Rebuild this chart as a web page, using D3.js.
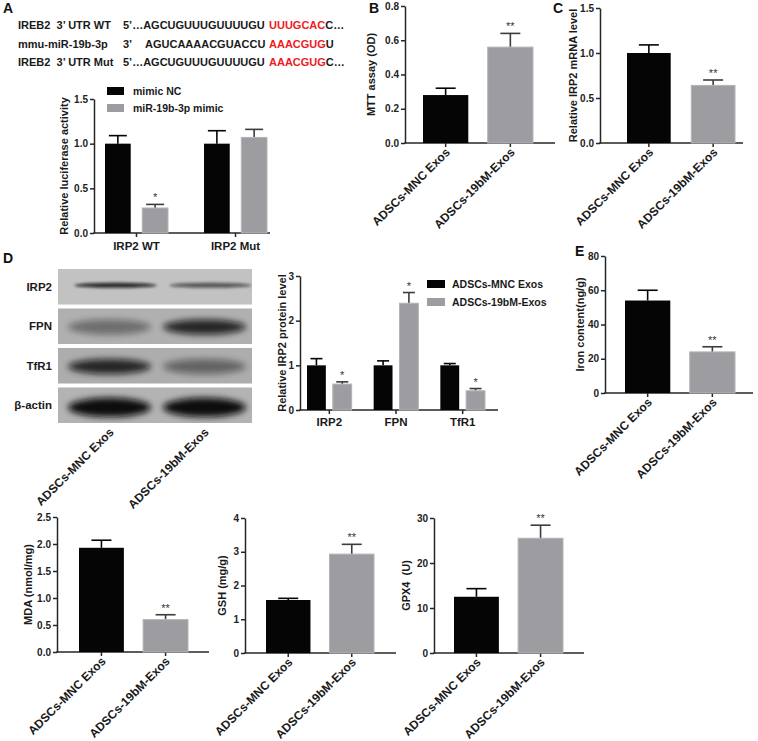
<!DOCTYPE html>
<html><head><meta charset="utf-8">
<script src="https://cdn.jsdelivr.net/npm/d3@7"></script>
<style>
body{margin:0;background:#fff;}
svg{display:block;font-family:"Liberation Sans",Arial,Helvetica,sans-serif;font-weight:bold;}
</style></head><body>
<svg id="fig" width="758" height="741"></svg>
<script>
// ---------------- DATA ----------------
const exoGroups = ["ADSCs-MNC Exos", "ADSCs-19bM-Exos"];

const seqNames  = ["IREB2  3\u2019 UTR WT", "mmu-miR-19b-3p", "IREB2  3\u2019 UTR Mut"];
const seqEnds   = ["5\u2019\u2026", "3\u2019", "5\u2019\u2026"];
const seqBody   = ["AGCUGUUUGUUUUGU", "AGUCAAAACGUACCU", "AGCUGUUUGUUUUGU"];
const seqSeed   = ["UUUGCAC", "AAACGUG", "AAACGUG"];
const seqTail   = ["C\u2026", "U", "C\u2026"];

const lucTargets   = ["IRP2 WT", "IRP2 Mut"];
const lucSeries    = ["mimic NC", "miR-19b-3p mimic"];
const lucNC        = [1.00, 1.00];
const lucNCErr     = [0.09, 0.145];
const lucMimic     = [0.28, 1.07];
const lucMimicErr  = [0.04, 0.09];
const lucMimicSig  = ["*", ""];
const lucTicks     = [0, 0.5, 1.0, 1.5];

const mttMean = [0.28, 0.56];
const mttErr  = [0.04, 0.08];
const mttSig  = ["", "**"];
const mttTicks = [0, 0.2, 0.4, 0.6, 0.8];

const mrnaMean = [1.00, 0.64];
const mrnaErr  = [0.09, 0.06];
const mrnaSig  = ["", "**"];
const mrnaTicks = [0, 0.5, 1.0, 1.5];

const blotProteins = ["IRP2", "FPN", "TfR1", "\u03b2-actin"];
const blotMNC      = [0.85, 0.40, 0.85, 1.00];
const blot19bM     = [0.60, 0.85, 0.45, 1.00];

const proteinTargets  = ["IRP2", "FPN", "TfR1"];
const proteinMNC      = [1.00, 1.00, 1.00];
const proteinMNCErr   = [0.15, 0.10, 0.04];
const protein19bM     = [0.58, 2.39, 0.43];
const protein19bMErr  = [0.05, 0.24, 0.05];
const protein19bMSig  = ["*", "*", "*"];
const proteinTicks    = [0, 1, 2, 3];

const ironMean = [54, 24];
const ironErr  = [6, 3];
const ironSig  = ["", "**"];
const ironTicks = [0, 20, 40, 60, 80];

const mdaMean = [1.93, 0.60];
const mdaErr  = [0.14, 0.09];
const mdaSig  = ["", "**"];
const mdaTicks = [0, 0.5, 1.0, 1.5, 2.0, 2.5];

const gshMean = [1.57, 2.93];
const gshErr  = [0.05, 0.29];
const gshSig  = ["", "**"];
const gshTicks = [0, 1, 2, 3, 4];

const gpxMean = [12.5, 25.5];
const gpxErr  = [1.8, 2.9];
const gpxSig  = ["", "**"];
const gpxTicks = [0, 10, 20, 30];

// ---------------- STYLE ----------------
const FONT = "'Liberation Sans', Arial, Helvetica, sans-serif";
const AXC = "#262626";
const COLORS = ["#050505", "#9d9da1"];
const ERRC = ["#050505", "#3c3c3c"];
const svg = d3.select("#fig");

const defs = svg.append("defs");
defs.append("filter").attr("id", "blur").attr("x", "-50%").attr("y", "-100%").attr("width", "200%").attr("height", "300%")
  .append("feGaussianBlur").attr("stdDeviation", 3);
defs.append("filter").attr("id", "blur2").attr("x", "-50%").attr("y", "-100%").attr("width", "200%").attr("height", "300%")
  .append("feGaussianBlur").attr("stdDeviation", 1.6);

function letter(t, x, y) {
  svg.append("text").attr("x", x).attr("y", y).attr("font-size", 14).attr("font-weight", "bold").attr("fill", "#111").text(t);
}

function yLeft(g, y, x0, ticks, fmt) {
  const a = g.append("g").attr("transform", `translate(${x0},0)`)
    .call(d3.axisLeft(y).tickValues(ticks).tickFormat(fmt).tickSize(4).tickSizeOuter(0));
  a.attr("font-family", FONT).attr("font-size", 10).attr("font-weight", "bold");
  a.select(".domain").attr("stroke", AXC).attr("stroke-width", 1.5);
  a.selectAll(".tick line").attr("stroke", AXC).attr("stroke-width", 1.5);
  a.selectAll(".tick text").attr("fill", "#222").attr("x", -6);
}

function xBase(g, y0, x0, x1, centers) {
  g.append("line").attr("x1", x0 - 0.75).attr("x2", x1).attr("y1", y0).attr("y2", y0)
    .attr("stroke", AXC).attr("stroke-width", 1.5);
  g.selectAll(null).data(centers).join("line")
    .attr("x1", d => d).attr("x2", d => d).attr("y1", y0).attr("y2", y0 + 4)
    .attr("stroke", AXC).attr("stroke-width", 1.5);
}

function drawBar(g, cx, w, y, v, e, i, sig, capW) {
  g.append("line").attr("x1", cx).attr("x2", cx).attr("y1", y(v)).attr("y2", y(v + e))
    .attr("stroke", ERRC[i]).attr("stroke-width", 1.6);
  g.append("line").attr("x1", cx - capW / 2).attr("x2", cx + capW / 2).attr("y1", y(v + e)).attr("y2", y(v + e))
    .attr("stroke", ERRC[i]).attr("stroke-width", 1.6);
  g.append("rect").attr("x", cx - w / 2).attr("y", y(v)).attr("width", w).attr("height", y(0) - y(v))
    .attr("fill", COLORS[i]).attr("stroke", i ? "#b4b4b7" : "none").attr("stroke-width", 1);
  if (sig) {
    g.append("text").attr("x", cx).attr("y", y(v + e) - 3).attr("text-anchor", "middle")
      .attr("font-size", 11).attr("font-weight", "normal").attr("fill", "#333").text(sig);
  }
}

function yTitle(g, text, x, yc) {
  g.append("text").attr("transform", `translate(${x},${yc}) rotate(-90)`)
    .attr("text-anchor", "middle").attr("dy", "0.35em")
    .attr("font-size", 11).attr("fill", "#1a1a1a").style("white-space", "pre").text(text);
}

function rotLabels(g, labels, centers, y0) {
  g.selectAll(null).data(labels).join("text")
    .attr("transform", (d, i) => `translate(${centers[i] + 5},${y0 + 10}) rotate(-45)`)
    .attr("text-anchor", "end").attr("font-size", 12).attr("fill", "#1a1a1a").text(d => d);
}

function twoBarPanel(p) {
  const g = svg.append("g");
  const y = d3.scaleLinear().domain([0, p.max]).range([p.yBot, p.yTop]);
  const x = d3.scaleBand().domain(exoGroups).range(p.band).paddingInner(p.pad);
  const centers = exoGroups.map(c => x(c) + x.bandwidth() / 2);
  xBase(g, p.yBot, p.x0, p.xEnd, centers);
  exoGroups.forEach((c, i) => drawBar(g, centers[i], x.bandwidth(), y, p.mean[i], p.err[i], i, p.sig[i], p.cap));
  yLeft(g, y, p.x0, p.ticks, p.fmt);
  yTitle(g, p.title, p.titleX, (p.yTop + p.yBot) / 2);
  rotLabels(g, exoGroups, centers, p.yBot);
}

// ---------------- PANEL A ----------------
letter("A", 3, 13);
{
  const g = svg.append("g").attr("font-size", 11).attr("fill", "#1a1a1a");
  const rowY = d3.scalePoint().domain(seqNames).range([29, 66]);
  seqNames.forEach((n, i) => {
    const t = g.append("text").attr("y", rowY(n)).style("white-space", "pre");
    t.append("tspan").attr("x", 18).text(n);
    t.append("tspan").attr("x", 123).text(seqEnds[i] + (i === 1 ? "" : seqBody[i]));
    if (i === 1) t.append("tspan").attr("x", 145).text(seqBody[i]);
    t.append("tspan").attr("x", 269).attr("fill", "#ee1c24").text(seqSeed[i]);
    t.append("tspan").attr("fill", "#1a1a1a").text(seqTail[i]);
  });

  const y = d3.scaleLinear().domain([0, 1.5]).range([233, 99]);
  const x0 = d3.scaleBand().domain(lucTargets).range([105, 267]).paddingInner(0.364);
  const x1 = d3.scaleBand().domain(lucSeries).range([0, x0.bandwidth()]).paddingInner(0.31);
  const gc = svg.append("g");
  const centers = lucTargets.map(c => x0(c) + x0.bandwidth() / 2);
  xBase(gc, 233, 94, 270, centers);
  lucTargets.forEach((c, i) => {
    drawBar(gc, x0(c) + x1(lucSeries[0]) + x1.bandwidth() / 2, x1.bandwidth(), y, lucNC[i], lucNCErr[i], 0, "", 18);
    drawBar(gc, x0(c) + x1(lucSeries[1]) + x1.bandwidth() / 2, x1.bandwidth(), y, lucMimic[i], lucMimicErr[i], 1, lucMimicSig[i], 18);
  });
  yLeft(gc, y, 94, lucTicks, d3.format(".1f"));
  yTitle(gc, "Relative luciferase activity", 64, 166);
  gc.selectAll(null).data(lucTargets).join("text")
    .attr("x", (d, i) => centers[i]).attr("y", 250).attr("text-anchor", "middle")
    .attr("font-size", 11.5).attr("fill", "#1a1a1a").text(d => d);
  const lg = gc.append("g");
  lucSeries.forEach((s, i) => {
    lg.append("rect").attr("x", 107).attr("y", 87 + i * 17).attr("width", 17).attr("height", 8).attr("fill", COLORS[i]);
    lg.append("text").attr("x", 133).attr("y", 95 + i * 17).attr("font-size", 10.5).attr("fill", "#1a1a1a").text(s);
  });
}

// ---------------- PANEL B ----------------
letter("B", 369, 13);
twoBarPanel({ x0: 405, xEnd: 555, yTop: 6, yBot: 143, max: 0.8, band: [423, 533], pad: 0.3,
  mean: mttMean, err: mttErr, sig: mttSig, ticks: mttTicks, fmt: d3.format(".1f"), cap: 20,
  title: "MTT assay (OD)", titleX: 371 });

// ---------------- PANEL C ----------------
letter("C", 553, 13);
twoBarPanel({ x0: 600, xEnd: 743, yTop: 8, yBot: 143, max: 1.5, band: [627, 735], pad: 0.32,
  mean: mrnaMean, err: mrnaErr, sig: mrnaSig, ticks: mrnaTicks, fmt: d3.format(".1f"), cap: 20,
  title: "Relative IRP2 mRNA level", titleX: 573 });

// ---------------- PANEL D : blot ----------------
letter("D", 3, 263);
{
  const g = svg.append("g");
  const sy = d3.scaleBand().domain(blotProteins).range([269, 423]).paddingInner(0.1);
  const lane = d3.scaleBand().domain(exoGroups).range([62, 252]);
  const stripFill = ["#c2c2c2", "#b0b0b0", "#adadad", "#b3b3b3"];
  const bandH = [5, 15, 15, 19];
  const bandPos = [0.46, 0.52, 0.52, 0.56];
  blotProteins.forEach((p, i) => {
    const top = sy(p), h = sy.bandwidth();
    const cid = "clip" + i;
    defs.append("clipPath").attr("id", cid).append("rect").attr("x", 58).attr("y", top).attr("width", 194).attr("height", h);
    g.append("rect").attr("x", 58).attr("y", top).attr("width", 194).attr("height", h).attr("fill", stripFill[i]);
    const gb = g.append("g").attr("clip-path", `url(#${cid})`);
    [blotMNC[i], blot19bM[i]].forEach((v, j) => {
      const cx = lane(exoGroups[j]) + lane.bandwidth() / 2 + (i === 0 ? 6 : 0);
      gb.append("ellipse").attr("cx", cx).attr("cy", top + h * bandPos[i])
        .attr("rx", lane.bandwidth() / 2 - 6).attr("ry", bandH[i] / 2)
        .attr("fill", "#0a0a0a").attr("opacity", v).attr("filter", i === 0 ? "url(#blur2)" : "url(#blur)");
    });
    g.append("text").attr("x", 52).attr("y", top + h / 2).attr("dy", "0.35em").attr("text-anchor", "end")
      .attr("font-size", 11.5).attr("fill", "#1a1a1a").text(p);
  });
  const centers = exoGroups.map(c => lane(c) + lane.bandwidth() / 2);
  rotLabels(g, exoGroups, centers, 423);
}

// ---------------- PANEL D : protein bars ----------------
{
  const g = svg.append("g");
  const y = d3.scaleLinear().domain([0, 3]).range([410, 276]);
  const x0 = d3.scaleBand().domain(proteinTargets).range([307, 485]).paddingInner(0.33);
  const x1 = d3.scaleBand().domain(exoGroups).range([0, x0.bandwidth()]).paddingInner(0.27);
  const centers = proteinTargets.map(c => x0(c) + x0.bandwidth() / 2);
  xBase(g, 410, 300, 498, centers);
  proteinTargets.forEach((c, i) => {
    drawBar(g, x0(c) + x1(exoGroups[0]) + x1.bandwidth() / 2, x1.bandwidth(), y, proteinMNC[i], proteinMNCErr[i], 0, "", 12);
    drawBar(g, x0(c) + x1(exoGroups[1]) + x1.bandwidth() / 2, x1.bandwidth(), y, protein19bM[i], protein19bMErr[i], 1, protein19bMSig[i], 12);
  });
  yLeft(g, y, 300, proteinTicks, d3.format("d"));
  yTitle(g, "Relative IRP2 protein level", 282, 343);
  g.selectAll(null).data(proteinTargets).join("text")
    .attr("x", (d, i) => centers[i]).attr("y", 426).attr("text-anchor", "middle")
    .attr("font-size", 11.5).attr("fill", "#1a1a1a").text(d => d);
  exoGroups.forEach((s, i) => {
    g.append("rect").attr("x", 427).attr("y", 280 + i * 18).attr("width", 18).attr("height", 8).attr("fill", COLORS[i]);
    g.append("text").attr("x", 452).attr("y", 288 + i * 18).attr("font-size", 10.5).attr("fill", "#1a1a1a").text(s);
  });
}

// ---------------- PANEL E ----------------
letter("E", 575, 256);
twoBarPanel({ x0: 605, xEnd: 753, yTop: 256, yBot: 393, max: 80, band: [625, 735], pad: 0.3,
  mean: ironMean, err: ironErr, sig: ironSig, ticks: ironTicks, fmt: d3.format("d"), cap: 20,
  title: "Iron content(ng/g)", titleX: 580 });

// ---------------- BOTTOM ROW ----------------
twoBarPanel({ x0: 57, xEnd: 209, yTop: 517, yBot: 652, max: 2.5, band: [79, 188], pad: 0.3,
  mean: mdaMean, err: mdaErr, sig: mdaSig, ticks: mdaTicks, fmt: d3.format(".1f"), cap: 20,
  title: "MDA (nmol/mg)", titleX: 28 });
twoBarPanel({ x0: 245, xEnd: 396, yTop: 518, yBot: 653, max: 4, band: [266, 374], pad: 0.3,
  mean: gshMean, err: gshErr, sig: gshSig, ticks: gshTicks, fmt: d3.format("d"), cap: 20,
  title: "GSH (mg/g)", titleX: 222 });
twoBarPanel({ x0: 434, xEnd: 584, yTop: 518, yBot: 653, max: 30, band: [454, 563], pad: 0.3,
  mean: gpxMean, err: gpxErr, sig: gpxSig, ticks: gpxTicks, fmt: d3.format("d"), cap: 20,
  title: "GPX4  (U)", titleX: 406 });
</script>
</body></html>
